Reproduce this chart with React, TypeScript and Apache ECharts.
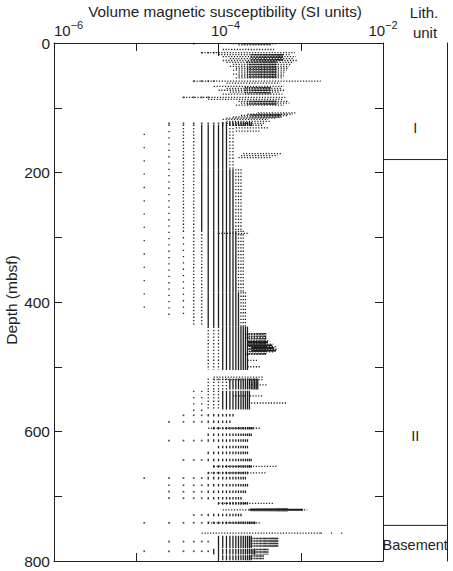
import React, { useEffect, useRef } from 'react';
import * as echarts from 'echarts';

// One instrument step of volume susceptibility, SI units
const QUANTUM = 1.25e-5;

// Vertical runs of readings: [depthTop (m), depthBottom (m), levelFrom, levelTo] (level × QUANTUM = SI value)
const solidStripes: number[][] = [
  [122, 128, 9, 20],
  [126, 195, 5, 10], [195, 290, 5, 12], [290, 385, 6, 13], [385, 438, 6, 14],
  [438, 485, 9, 18], [485, 505, 9, 18], [518, 535, 11, 24], [537, 566, 9, 19],
  [573, 577, 6, 12], [583, 587, 6, 11], [593, 597, 7, 21], [603, 607, 6, 20], [612, 616, 6, 18],
  [622, 626, 8, 18], [631, 635, 6, 18], [642, 646, 6, 20], [652, 656, 7, 20], [662, 666, 6, 18],
  [670, 674, 6, 17], [681, 685, 6, 18], [691, 695, 6, 17], [701, 705, 6, 15], [709, 713, 8, 18],
  [727, 731, 6, 15], [739, 743, 6, 22],
  [761, 780, 8, 20], [781, 790, 7, 22], [791, 799, 8, 20],
];
// Closely packed readings (dark clusters)
const denseStripes: number[][] = [
  [0, 2.5, 16, 34], [17, 28, 20, 48], [28, 55, 18, 40], [68, 80, 17, 34], [89, 97, 18, 40],
  [110, 115, 20, 45], [448, 482, 19, 30], [719, 723, 20, 55],
  [764, 778, 20, 42], [781, 790, 22, 32], [791, 799, 20, 28],
];
const dottedStripes: number[][] = [
  [126, 195, 11, 12], [126, 290, 3, 4], [290, 438, 4, 5], [195, 290, 13, 15], [290, 385, 14, 16],
  [385, 438, 15, 17], [438, 505, 6, 8], [518, 535, 6, 10], [537, 566, 6, 8],
];
const sparseStripes: number[][] = [
  [126, 420, 2, 2], [290, 420, 3, 3], [537, 570, 4, 5],
];
const rareStripes: number[][] = [
  [140, 420, 1, 1],
];

// Horizontal runs of readings at one depth: [depth (m), levelFrom, levelTo]
const dashRows: number[][] = [
  [0.8, 11, 40], [3, 14, 36], [10, 9, 38], [15, 5, 68], [18, 8, 60], [21, 9, 70], [24, 11, 64],
  [27, 9, 72], [30, 10, 66], [33, 12, 60], [36, 11, 58], [39, 13, 56], [42, 12, 54], [45, 14, 52],
  [48, 12, 50], [51, 14, 50], [54, 13, 48], [59, 4, 140], [62, 10, 45], [67, 7, 50], [70, 10, 46],
  [73, 8, 52], [76, 11, 44], [79, 9, 48], [84, 3, 52], [87, 6, 48], [90, 14, 55], [93, 15, 58],
  [96, 13, 50], [108, 24, 72], [110, 18, 64], [112, 15, 56], [114, 12, 48], [116, 10, 40],
  [118, 9, 32], [121, 10, 35], [124, 10, 30], [127, 12, 28], [131, 13, 32], [136, 13, 26],
  [171, 16, 47], [174, 15, 42], [177, 14, 35], [294, 8, 19],
  [450, 17, 28], [455, 17, 31], [460, 18, 34], [465, 18, 37], [469, 19, 40], [473, 18, 42],
  [477, 19, 38], [481, 17, 30], [490, 18, 24], [500, 18, 26],
  [516, 7, 28], [520, 7, 28], [528, 20, 32], [545, 12, 28], [556, 20, 55],
  [595, 6, 26], [654, 7, 41], [664, 6, 31], [711, 8, 37], [721, 9, 96], [741, 6, 26], [757, 5, 140],
];
const darkRows: number[][] = [
  [462, 18, 32], [467, 18, 36], [471, 20, 38], [475, 20, 40], [721, 19, 85],
];
const sparseRows: number[][] = [
  [757, 140, 320],
];
const dotRows: number[][] = [
  [1, 4, 4], [15, 5, 8], [59, 4, 7], [84, 3, 6], [124, 2, 9],
  [575, 3, 5], [585, 2, 5], [614, 2, 5], [644, 3, 5], [672, 1, 5], [683, 2, 5], [693, 2, 5],
  [703, 2, 5], [729, 4, 5], [741, 1, 5], [770, 2, 6], [785, 1, 6],
];

// Axes
const xTickExponents = [-6, -5, -4, -3, -2];
const depthMax = 800;
const depthLabelStep = 200;
const depthTitle = 'Depth (mbsf)';

// Lithologic units
const lithUnits = ['I', 'II', 'Basement'];
const lithBoundaries = [180, 745];
const lithLabelDepths = [131, 607, 775];

const INK = '#1e1e1e';
const FONT = 'Liberation Sans, Arial, Helvetica, sans-serif';

const lx = (k: number) => Math.log10(k * QUANTUM);

function stripeData(bands: number[][]) {
  const out: number[][] = [];
  for (const [t, b, k1, k2] of bands) for (let k = k1; k <= k2; k++) out.push([lx(k), t, b]);
  return out;
}
function rowData(rows: number[][]) {
  return rows.map(([d, k1, k2]) => [d, lx(k1), lx(k2)]);
}
function dotData(rows: number[][]) {
  const out: number[][] = [];
  for (const [d, k1, k2] of rows) for (let k = k1; k <= k2; k++) out.push([lx(k), d]);
  return out;
}

function vSeries(data: number[][], lineWidth: number, dash?: number[]) {
  return {
    type: 'custom', xAxisIndex: 0, yAxisIndex: 0, silent: true, clip: true,
    encode: { x: 0, y: [1, 2] }, data,
    renderItem: (_p: any, api: any) => {
      const a = api.coord([api.value(0), api.value(1)]);
      const b = api.coord([api.value(0), api.value(2)]);
      return { type: 'line', shape: { x1: a[0], y1: a[1], x2: b[0], y2: b[1] },
        style: { stroke: INK, lineWidth, lineDash: dash } };
    },
  };
}
function hSeries(data: number[][], lineWidth: number, dash?: number[]) {
  return {
    type: 'custom', xAxisIndex: 0, yAxisIndex: 0, silent: true, clip: true,
    encode: { x: [1, 2], y: 0 }, data,
    renderItem: (_p: any, api: any) => {
      const a = api.coord([api.value(1), api.value(0)]);
      const b = api.coord([api.value(2), api.value(0)]);
      return { type: 'line', shape: { x1: a[0], y1: a[1], x2: b[0], y2: b[1] },
        style: { stroke: INK, lineWidth, lineDash: dash } };
    },
  };
}

const xMin = xTickExponents[0];
const xMax = xTickExponents[xTickExponents.length - 1];

function xAxisPair(position: 'top' | 'bottom', withLabels: boolean) {
  return [
    {
      gridIndex: 0, type: 'value', position, min: xMin, max: xMax, interval: 1,
      axisLine: { show: true, onZero: false, lineStyle: { color: INK, width: 1 } },
      axisTick: { show: true, inside: true, length: 8, lineStyle: { color: INK } },
      axisLabel: { show: false }, splitLine: { show: false },
    },
    {
      gridIndex: 0, type: 'value', position, min: xMin, max: xMax, interval: 2,
      axisLine: { show: false, onZero: false },
      axisTick: { show: true, inside: true, length: 13, lineStyle: { color: INK } },
      axisLabel: {
        show: withLabels, margin: 5, alignMinLabel: 'left',
        formatter: (v: number) => {
          const e = Math.round(v);
          return (e === -4 ? '{p|}' : '') + '{b|10}{s|\u2212' + -e + '}';
        },
        rich: {
          b: { fontSize: 15, fontFamily: FONT, color: INK, verticalAlign: 'bottom', lineHeight: 19 },
          s: { fontSize: 11, fontFamily: FONT, color: INK, verticalAlign: 'top', lineHeight: 19 },
          p: { width: 14 },
        },
      },
      splitLine: { show: false },
    },
  ];
}

function yAxisDef(position: 'left' | 'right', withLabels: boolean) {
  return {
    gridIndex: 0, type: 'value', position, inverse: true, min: 0, max: depthMax, interval: 100,
    axisLine: { show: true, onZero: false, lineStyle: { color: INK, width: 1 } },
    axisTick: { show: true, inside: true, length: 8, lineStyle: { color: INK } },
    axisLabel: {
      show: withLabels, margin: 4, fontSize: 15.5, fontFamily: FONT, color: INK,
      formatter: (v: number) => (v % depthLabelStep === 0 ? String(v) : ''),
    },
    splitLine: { show: false },
  };
}

const lithData = lithUnits.map((u, i) => [i, lithLabelDepths[i], i > 0 ? lithBoundaries[i - 1] : -1]);

const option: any = {
  animation: false,
  backgroundColor: '#ffffff',
  textStyle: { fontFamily: FONT, color: INK },
  grid: [
    { left: 54, right: 70, top: 43, bottom: 10, containLabel: false, outerBoundsMode: 'none' },
    { left: 383, right: 5.5, top: 43, bottom: 10, containLabel: false, outerBoundsMode: 'none' },
  ],
  xAxis: [
    ...xAxisPair('top', true),
    ...xAxisPair('bottom', false),
    { gridIndex: 1, type: 'value', min: 0, max: 1, show: false },
  ],
  yAxis: [
    yAxisDef('left', true),
    yAxisDef('right', false),
    {
      gridIndex: 1, type: 'value', position: 'right', inverse: true, min: 0, max: depthMax,
      axisLine: { show: true, onZero: false, lineStyle: { color: INK, width: 1 } },
      axisTick: { show: false }, axisLabel: { show: false }, splitLine: { show: false },
    },
  ],
  graphic: [
    { type: 'text', x: 225, y: 11, style: { text: 'Volume magnetic susceptibility (SI units)', fontSize: 15.3, fontFamily: FONT, fill: INK, align: 'center', verticalAlign: 'middle' } },
    { type: 'text', x: 424, y: 12, style: { text: 'Lith.', fontSize: 15, fontFamily: FONT, fill: INK, align: 'center', verticalAlign: 'middle' } },
    { type: 'text', x: 425, y: 32, style: { text: 'unit', fontSize: 15, fontFamily: FONT, fill: INK, align: 'center', verticalAlign: 'middle' } },
    { type: 'text', x: 11, y: 300, rotation: Math.PI / 2, style: { text: depthTitle, fontSize: 15.5, fontFamily: FONT, fill: INK, align: 'center', verticalAlign: 'middle' } },
  ],
  series: [
    vSeries(stripeData(solidStripes), 1.3),
    vSeries(stripeData(denseStripes), 1.2, [1.5, 1]),
    vSeries(stripeData(dottedStripes), 1.3, [1.3, 2]),
    vSeries(stripeData(sparseStripes), 1.3, [1.3, 5]),
    vSeries(stripeData(rareStripes), 1.3, [1.3, 12]),
    hSeries(rowData(dashRows), 1.3, [1.2, 1.6]),
    hSeries(rowData(darkRows), 2),
    hSeries(rowData(sparseRows), 1.3, [1.2, 9]),
    {
      type: 'scatter', xAxisIndex: 0, yAxisIndex: 0, silent: true, symbol: 'rect', symbolSize: 1.7,
      itemStyle: { color: INK }, data: dotData(dotRows),
    },
    {
      type: 'custom', xAxisIndex: 4, yAxisIndex: 2, silent: true, data: lithData,
      encode: { x: 0, y: 1 },
      renderItem: (_p: any, api: any) => {
        const i = api.value(0);
        const children: any[] = [];
        const bd = api.value(2);
        if (bd >= 0) {
          const a = api.coord([0, bd]);
          const b = api.coord([1, bd]);
          children.push({ type: 'line', shape: { x1: a[0], y1: a[1], x2: b[0], y2: b[1] }, style: { stroke: INK, lineWidth: 1 } });
        }
        const c = api.coord([0.5, api.value(1)]);
        children.push({ type: 'text', style: { text: lithUnits[i], x: c[0], y: c[1], fontSize: 14.5, fontFamily: FONT, fill: INK, align: 'center', verticalAlign: 'middle' } });
        return { type: 'group', children };
      },
    },
  ],
};

export default function App() {
  const ref = useRef<HTMLDivElement>(null);
  useEffect(() => {
    const chart = echarts.init(ref.current!, null, { renderer: 'svg' });
    chart.setOption(option);
    return () => chart.dispose();
  }, []);
  return (
    <div
      ref={ref}
      style={{ position: 'fixed', left: 0, top: 0, width: 453, height: 571, background: '#fff' }}
    />
  );
}
